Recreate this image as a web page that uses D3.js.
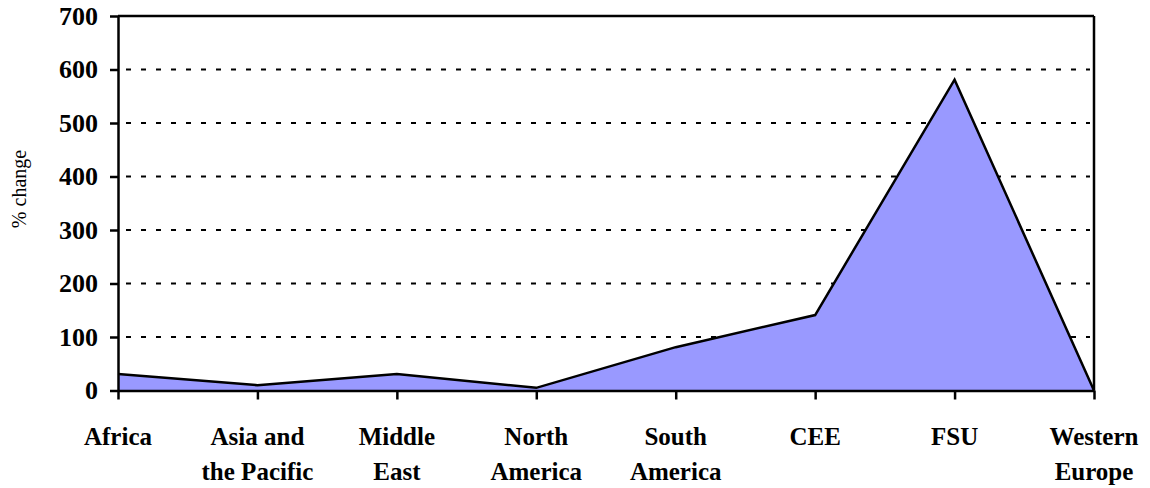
<!DOCTYPE html>
<html>
<head>
<meta charset="utf-8">
<script src="https://cdn.jsdelivr.net/npm/d3@7"></script>
<style>
  html, body { margin: 0; padding: 0; background: #fff; }
  svg { display: block; }
</style>
</head>
<body>
<svg id="chart" width="1150" height="488"></svg>
<script>
const categories = [["Africa"], ["Asia and", "the Pacific"], ["Middle", "East"], ["North", "America"], ["South", "America"], ["CEE"], ["FSU"], ["Western", "Europe"]];
const values = [31, 10, 31, 5, 81, 141, 581, 0];
const yTicks = [0, 100, 200, 300, 400, 500, 600, 700];
const yLabel = "% change";

const svg = d3.select("#chart");
const pLeft = 118, pRight = 1094, pTop = 16, pBottom = 390.5;

const x = d3.scalePoint().domain(d3.range(categories.length)).range([pLeft, pRight]);
const y = d3.scaleLinear().domain([0, 700]).range([pBottom, pTop]);

// gridlines
svg.append("g").selectAll("line").data(yTicks.filter(d => d > 0 && d < 700)).join("line")
  .attr("x1", pLeft + 8).attr("x2", pRight - 4)
  .attr("y1", d => y(d)).attr("y2", d => y(d))
  .attr("stroke", "#000").attr("stroke-width", 2.2)
  .attr("stroke-dasharray", "5,10");

// area
const data = values.map((v, i) => ({ i, v }));
svg.append("path").datum(data)
  .attr("d", d3.area().x(d => x(d.i)).y0(y(0)).y1(d => y(d.v)))
  .attr("fill", "#9999FF");
svg.append("path").datum(data)
  .attr("d", d3.line().x(d => x(d.i)).y(d => y(d.v)))
  .attr("fill", "none").attr("stroke", "#000").attr("stroke-width", 2.5)
  .attr("stroke-linejoin", "miter");

// frame top and right
svg.append("line").attr("x1", pLeft).attr("x2", pRight).attr("y1", pTop).attr("y2", pTop)
  .attr("stroke", "#000").attr("stroke-width", 2.5);
svg.append("line").attr("x1", pRight).attr("x2", pRight).attr("y1", pTop).attr("y2", pBottom)
  .attr("stroke", "#000").attr("stroke-width", 2.5);

// y axis (lines only; labels drawn below)
const yAxis = svg.append("g").attr("transform", `translate(${pLeft},0)`)
  .call(d3.axisLeft(y).tickValues(yTicks).tickSize(8).tickSizeOuter(0).tickFormat(""));
yAxis.select(".domain").attr("stroke-width", 2.5);
yAxis.selectAll(".tick line").attr("stroke-width", 2.5);
yAxis.selectAll("text").remove();

// x axis (lines only)
const xAxis = svg.append("g").attr("transform", `translate(0,${pBottom})`)
  .call(d3.axisBottom(x).tickSize(9).tickSizeOuter(0).tickFormat(""));
xAxis.select(".domain").attr("stroke-width", 2.5);
xAxis.selectAll(".tick line").attr("stroke-width", 2.5);
xAxis.selectAll("text").remove();

// labels layer
const labels = svg.append("g");
labels.selectAll("text.ytick").data(yTicks).join("text")
  .attr("class", "ytick")
  .attr("x", pLeft - 20).attr("y", d => y(d)).attr("dy", "0.34em")
  .attr("text-anchor", "end")
  .style("font-family", '"Liberation Serif"').style("font-size", "26px").style("font-weight", "bold")
  .text(d => d3.format("d")(d));

const xl = labels.selectAll("text.xtick").data(categories).join("text")
  .attr("class", "xtick")
  .attr("text-anchor", "middle")
  .style("font-family", '"Liberation Serif"').style("font-size", "25px").style("font-weight", "bold");
xl.each(function(lines, i) {
  const t = d3.select(this);
  lines.forEach((line, k) => {
    t.append("tspan").attr("x", x(i)).attr("y", pBottom + 54.5 + k * 35).text(line);
  });
});

// y label
labels.append("text")
  .attr("transform", `translate(26,189) rotate(-90)`)
  .attr("text-anchor", "middle")
  .style("font-family", '"Liberation Serif"').style("font-size", "20px")
  .text(yLabel);
</script>
</body>
</html>
